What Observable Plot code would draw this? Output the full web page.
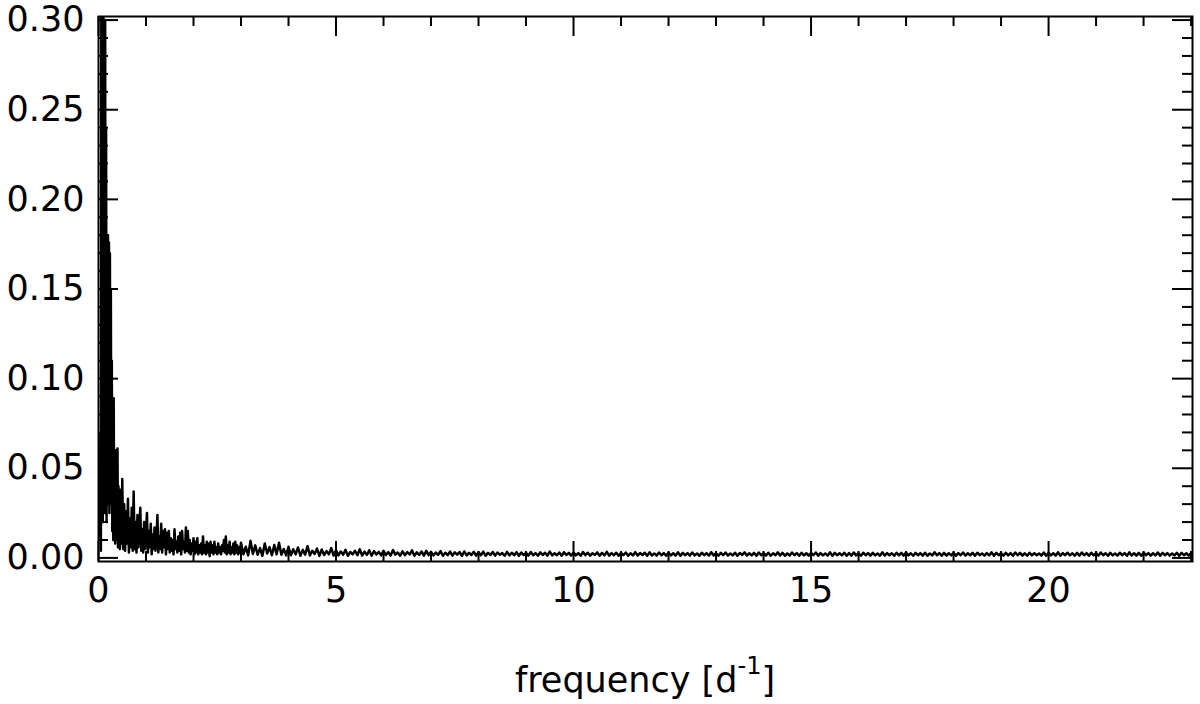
<!DOCTYPE html>
<html>
<head>
<meta charset="utf-8">
<script src="https://cdn.jsdelivr.net/npm/d3@7"></script>
<script src="https://cdn.jsdelivr.net/npm/@observablehq/plot@0.6"></script>
<style>
  html, body { margin: 0; padding: 0; background: #fff; }
</style>
</head>
<body>
<div id="chart"></div>
<script>
// ---- data (amplitude spectrum) ----
// low-frequency segment: f = 0.03 .. 0.49, step 0.01, amplitude in units of 1e-3
const lowStart = 0.03, lowStep = 0.01;
const ampLow = [
  12, 69, 4, 330, 70, 310, 20, 305, 30, 260,
  25, 300, 60, 240, 20, 178, 30, 180, 45, 176,
  25, 170, 40, 150, 30, 110, 15, 70, 10, 89,
  20, 55, 8, 60, 15, 45, 10, 61, 6, 40,
  12, 35, 5, 38, 14, 30, 8
];
// mid segment: f = 0.50 .. 2.98, step 0.02, amplitude in units of 1e-3
const midStart = 0.50, midStep = 0.02;
const ampMid = [
  44, 5, 30, 4, 26, 8, 33, 3, 22, 6, 28, 4, 37, 5, 20, 3, 24, 6, 18, 28, 4, 16, 3, 20, 5,
  14, 25, 3, 15, 6, 19, 2, 13, 5, 17, 4, 10, 24, 3, 12, 5, 19, 3, 15, 6, 16, 2, 14, 5, 15,
  3, 11, 4, 10, 2, 16, 5, 9, 3, 12, 4, 14, 2, 15, 5, 9, 3, 17, 4, 15, 3, 10, 2, 8, 4,
  11, 2, 9, 3, 11, 2, 7, 3, 8, 2, 12, 3, 7, 2, 9, 3, 8, 1, 9, 3, 7, 2, 9, 3, 6,
  2, 8, 3, 6, 2, 7, 4, 10, 3, 12, 2, 7, 3, 9, 2, 6, 3, 8, 2, 9, 3, 7, 2, 6, 3
];
// high segment: f = 3.00 .. 23.00, step 0.05, amplitude in units of 1e-4
const highStart = 3.00, highStep = 0.05;
const ampHigh = [
  85,20,62,14,95,22,70,18,55,12,80,25,60,15,72,20,85,18,50,14,
  62,15,48,20,58,12,45,18,66,14,40,22,52,11,47,16,38,20,55,13,
  42,14,36,18,45,12,33,20,40,15,48,13,35,17,42,12,38,19,34,14,
  40,16,32,13,44,18,30,12,37,15,33,19,42,12,31,16,36,13,39,15,
  34,14,30,17,38,12,29,15,35,13,31,18,33,11,36,14,28,16,34,13,
  31,15,35,12,28,16,33,13,30,17,27,12,34,14,29,15,32,12,30,16,
  28,13,33,15,27,12,31,16,29,13,35,14,26,15,30,12,32,16,28,13,
  30,14,27,12,33,15,29,13,26,16,31,12,28,14,34,13,27,15,29,12,
  28,15,30,12,26,14,32,13,27,16,29,12,31,14,25,13,30,15,27,12,
  29,14,26,13,31,12,28,15,27,13,30,14,25,12,29,15,27,13,32,14,
  26,12,28,15,30,13,25,14,29,12,27,16,31,13,26,14,28,12,30,15,
  27,13,29,12,26,15,31,14,28,12,25,13,30,15,27,12,29,14,26,13,
  28,15,30,12,27,14,25,13,31,12,28,15,26,14,29,12,27,13,30,14,
  26,12,29,15,27,13,28,14,25,12,31,13,27,15,26,12,29,14,28,13,
  30,14,26,12,28,15,27,13,29,12,25,14,31,15,27,12,28,13,26,14,
  29,12,27,15,30,13,26,14,28,12,29,15,25,13,27,14,31,12,28,15,
  26,13,29,14,27,12,30,15,28,13,26,12,29,14,27,15,25,13,30,12,
  28,14,26,13,31,12,27,15,29,14,26,12,28,13,30,15,27,12,29,14,
  27,13,30,15,26,12,28,14,25,13,29,15,27,12,31,14,26,13,28,12,
  29,15,27,13,26,14,30,12,28,15,27,13,25,14,29,12,28,15,26,13,
  27
];

// ticks
const xMajorTicks = [0, 5, 10, 15, 20];
const xMinorTicks = [1,2,3,4,6,7,8,9,11,12,13,14,16,17,18,19,21,22,23];
const yMajorTicks = [0, 0.05, 0.10, 0.15, 0.20, 0.25, 0.30];
const yMinorTicks = [0.01,0.02,0.03,0.04,0.06,0.07,0.08,0.09,0.11,0.12,0.13,0.14,
                     0.16,0.17,0.18,0.19,0.21,0.22,0.23,0.24,0.26,0.27,0.28,0.29];

// build table
const spectrum = [
  ...ampLow.map((v, i) => ({f: lowStart + i * lowStep, a: v * 1e-3})),
  ...ampMid.map((v, i) => ({f: midStart + i * midStep, a: v * 1e-3})),
  ...ampHigh.map((v, i) => ({f: highStart + i * highStep, a: v * 1e-4}))
];

// layout
const W = 1200, H = 704;
const ML = 98, MR = 8, MT = 16, MB = 143;
const innerW = W - ML - MR, innerH = H - MT - MB;
const FS = 35;
const MAJ = 20, MIN = 10;

const chart = Plot.plot({
  width: W,
  height: H,
  marginLeft: ML,
  marginRight: MR,
  marginTop: MT,
  marginBottom: MB,
  style: {fontFamily: "DejaVu Sans", color: "black", background: "white"},
  x: {domain: [0, 23.03]},
  y: {domain: [-0.002, 0.302]},
  marks: [
    Plot.line(spectrum, {x: "f", y: "a", stroke: "black", strokeWidth: 2.5, clip: true}),
    Plot.frame({stroke: "black", strokeWidth: 2}),
    // inward tick marks on all four sides
    Plot.ruleX(xMajorTicks, {x: d => d, insetTop: innerH - MAJ, stroke: "black", strokeWidth: 2}),
    Plot.ruleX(xMinorTicks, {x: d => d, insetTop: innerH - MIN, stroke: "black", strokeWidth: 2}),
    Plot.ruleX(xMajorTicks, {x: d => d, insetBottom: innerH - MAJ, stroke: "black", strokeWidth: 2}),
    Plot.ruleX(xMinorTicks, {x: d => d, insetBottom: innerH - MIN, stroke: "black", strokeWidth: 2}),
    Plot.ruleY(yMajorTicks, {y: d => d, insetRight: innerW - MAJ, stroke: "black", strokeWidth: 2}),
    Plot.ruleY(yMinorTicks, {y: d => d, insetRight: innerW - MIN, stroke: "black", strokeWidth: 2}),
    Plot.ruleY(yMajorTicks, {y: d => d, insetLeft: innerW - MAJ, stroke: "black", strokeWidth: 2}),
    Plot.ruleY(yMinorTicks, {y: d => d, insetLeft: innerW - MIN, stroke: "black", strokeWidth: 2}),
    // tick labels
    Plot.axisX(xMajorTicks, {anchor: "bottom", tickSize: 0, tickPadding: 16, fontSize: FS, label: null}),
    Plot.axisY(yMajorTicks, {anchor: "left", tickSize: 0, tickPadding: 14, fontSize: FS, label: null, tickFormat: d => d.toFixed(2)})
  ]
});

document.getElementById("chart").appendChild(chart);

// x-axis title with superscript
const title = d3.select(chart).append("text")
  .attr("x", ML + innerW / 2)
  .attr("y", 692)
  .attr("text-anchor", "middle")
  .attr("font-family", "DejaVu Sans")
  .attr("font-size", 35)
  .attr("fill", "black");
title.append("tspan").text("frequency [d");
title.append("tspan").attr("font-size", 24).attr("dy", -18).text("-1");
title.append("tspan").attr("dy", 18).text("]");
</script>
</body>
</html>
